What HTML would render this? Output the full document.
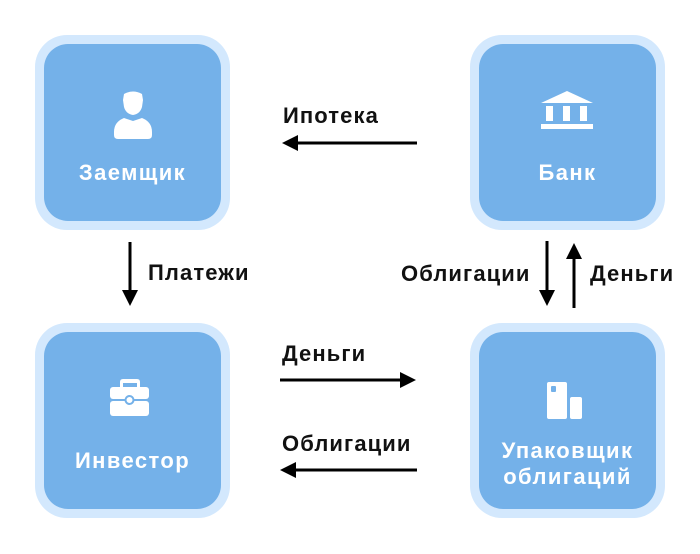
<!DOCTYPE html>
<html><head><meta charset="utf-8"><style>
body{margin:0;width:700px;height:554px;background:#fff;position:relative;overflow:hidden;font-family:"Liberation Sans",sans-serif;}
.o{position:absolute;width:195px;height:195px;background:#d3e8fd;border-radius:32px;}
.i{position:absolute;left:9px;top:9px;width:177px;height:177px;background:#74b1e9;border-radius:24px;}
.t{position:absolute;left:0;width:100%;text-align:center;color:#fff;font-weight:bold;font-size:22px;letter-spacing:1.4px;line-height:26px;}
.l{position:absolute;font-weight:bold;font-size:22px;letter-spacing:1.1px;color:#111;line-height:22px;white-space:nowrap;}
svg{position:absolute;left:0;top:0;}
</style></head><body>
<div class="o" style="left:35px;top:35px"><div class="i">
<div class="t" style="top:116px">Заемщик</div></div></div>
<div class="o" style="left:470px;top:35px"><div class="i">
<div class="t" style="top:116px">Банк</div></div></div>
<div class="o" style="left:35px;top:323px"><div class="i">
<div class="t" style="top:116px">Инвестор</div></div></div>
<div class="o" style="left:470px;top:323px"><div class="i">
<div class="t" style="top:106px">Упаковщик<br>облигаций</div></div></div>

<div class="l" style="left:283px;top:105px">Ипотека</div>
<div class="l" style="left:148px;top:262px">Платежи</div>
<div class="l" style="left:401px;top:263px">Облигации</div>
<div class="l" style="left:590px;top:263px">Деньги</div>
<div class="l" style="left:282px;top:343px">Деньги</div>
<div class="l" style="left:282px;top:433px">Облигации</div>

<svg width="700" height="554">
<g fill="#fff">
<path d="M124 94 q9 -5 18 0 l1 6 l-1 7 q-2 7 -9 8 q-7 -1 -9 -8 l-1 -7z"/>
<path d="M114 132 q0 -10 10 -14 l9 3 l9 -3 q10 4 10 14 l0 3 q0 4 -4 4 l-30 0 q-4 0 -4 -4z"/>
<path d="M541 103 l26 -12 l26 12z"/>
<rect x="546" y="106" width="7" height="15"/><rect x="563" y="106" width="7" height="15"/><rect x="580" y="106" width="7" height="15"/>
<rect x="541" y="124" width="52" height="5"/>
<path d="M120 387 v-5 q0 -3 3 -3 h14 q3 0 3 3 v5 h-3 v-4 h-14 v4z"/>
<rect x="110" y="387" width="39" height="12" rx="3"/>
<rect x="110" y="401" width="39" height="15" rx="3"/>
<circle cx="129.5" cy="400" r="4" fill="#fff" stroke="#74b1e9" stroke-width="2"/>
<rect x="547" y="382" width="20" height="37" rx="2"/>
<rect x="551" y="386" width="5" height="6" rx="1" fill="#74b1e9"/>
<rect x="570" y="397" width="12" height="22" rx="2"/>
</g>
<g stroke="#000" stroke-width="3">
<line x1="417" y1="143" x2="296" y2="143"/>
<line x1="130" y1="242" x2="130" y2="292"/>
<line x1="547" y1="241" x2="547" y2="292"/>
<line x1="574" y1="256" x2="574" y2="308"/>
<line x1="280" y1="380" x2="402" y2="380"/>
<line x1="417" y1="470" x2="294" y2="470"/>
</g>
<g fill="#000">
<path d="M282 143 l16 -8 v16z"/>
<path d="M130 306 l-8 -16 h16z"/>
<path d="M547 306 l-8 -16 h16z"/>
<path d="M574 243 l-8 16 h16z"/>
<path d="M416 380 l-16 -8 v16z"/>
<path d="M280 470 l16 -8 v16z"/>
</g>
</svg>
</body></html>
